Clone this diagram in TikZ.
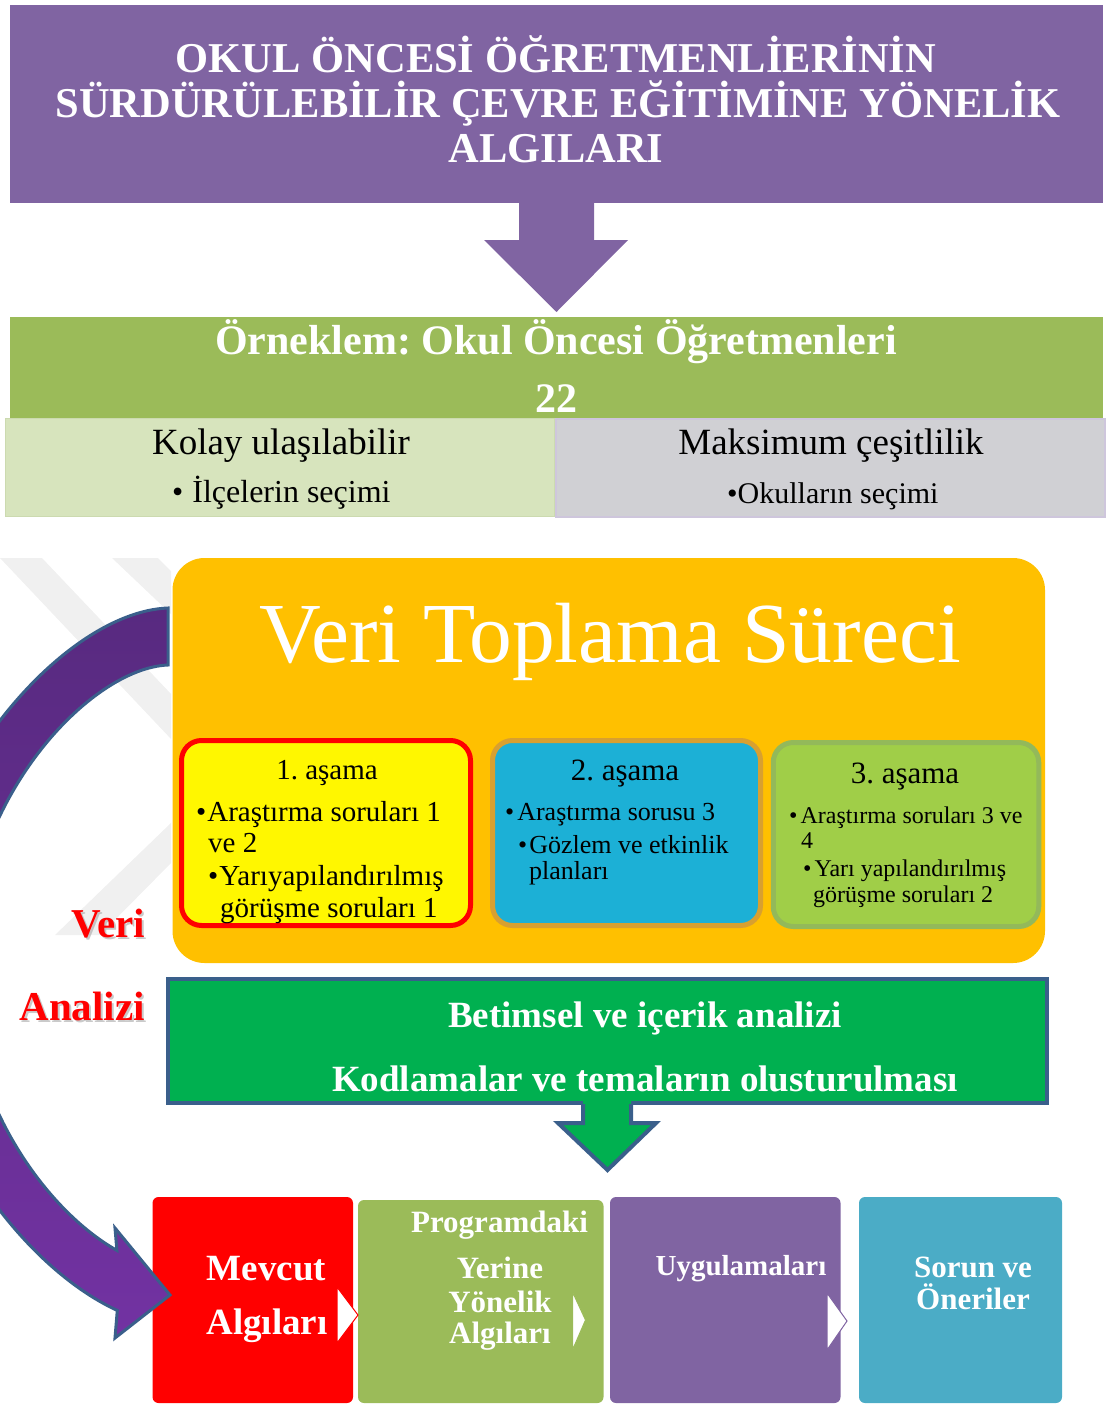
\documentclass[tikz,border=0pt]{standalone}
\usepackage{fontspec}
\setmainfont{Liberation Serif}
\usetikzlibrary{calc}
\definecolor{tpurple}{HTML}{8064A2}
\definecolor{tgreen}{HTML}{9BBB59}
\definecolor{lgreen}{HTML}{D7E4BD}
\definecolor{lgreenedge}{HTML}{CCDAB0}
\definecolor{lgray}{HTML}{D0D0D4}
\definecolor{lgrayedge}{HTML}{CEC6DC}
\definecolor{torange}{HTML}{FFC000}
\definecolor{tyellow}{HTML}{FFF700}
\definecolor{tblue}{HTML}{1CB0D6}
\definecolor{tblueedge}{HTML}{D8A030}
\definecolor{tlime}{HTML}{A0CE48}
\definecolor{tlimeedge}{HTML}{93B95A}
\definecolor{tgreenbox}{HTML}{00B050}
\definecolor{tedge}{HTML}{3A5F8B}
\definecolor{tred}{HTML}{FF0000}
\definecolor{tcyan}{HTML}{4BACC6}
\definecolor{arrtop}{HTML}{582A80}
\definecolor{arrbot}{HTML}{7232A2}
\definecolor{wmark}{HTML}{F0F0F0}
\newcommand\fsz[1]{\fontsize{#1}{#1}\selectfont}
\frenchspacing
\begin{document}
\begin{tikzpicture}[x=1pt,y=-1pt,
  panel/.style={rectangle, inner sep=0pt, outer sep=0pt},
  whitebold/.style={text=white, font=\fsz{#1}\bfseries, anchor=base, inner sep=0pt},
  blacktext/.style={text=black, font=\fsz{#1}, anchor=base, inner sep=0pt},
  blackleft/.style={text=black, font=\fsz{#1}, anchor=base west, inner sep=0pt},
  redlabel/.style={text=tred, font=\fsz{41}\bfseries, anchor=base east, inner sep=0pt},
  shadowlabel/.style={text=black!35, font=\fsz{41}\bfseries, anchor=base east, inner sep=0pt, opacity=0.6},
  stagebox/.style={panel, rounded corners=20pt, line width=5pt},
  bottombox/.style={panel, rounded corners=6pt},
  chev/.style={fill=white, line width=1pt, line join=miter}
]
\useasboundingbox (0,0) rectangle (1107,1405);
\clip (0,0) rectangle (1107,1405);

% watermark
\begin{scope}
\clip (0,555) rectangle (171,940);
\fill[wmark] (0,558) -- (42,558) -- (172,695) -- (172,740) -- cycle;
\fill[wmark] (112,558) -- (158,558) -- (172,572) -- (172,615) -- cycle;
\fill[wmark] (55,935) -- (172,822) -- (172,862) -- (100,935) -- cycle;
\end{scope}

% title
\node[panel, fill=tpurple, minimum width=1093pt, minimum height=198pt] (title) at (556.5,104) {};
\node[whitebold=42.5] (ttl1) at (556,72) {OKUL ÖNCESİ ÖĞRETMENLİERİNİN};
\node[whitebold=42.5] (ttl2) at (558,117) {SÜRDÜRÜLEBİLİR ÇEVRE EĞİTİMİNE YÖNELİK};
\node[whitebold=42.5] (ttl3) at (556,162) {ALGILARI};

% sample
\node[panel, fill=tgreen, minimum width=1093pt, minimum height=101pt] (sample) at (556.5,367.5) {};
\node[whitebold=42] (samplet) at (556,354) {Örneklem: Okul Öncesi Öğretmenleri};
\node[whitebold=42] (samplen) at (556,412) {22};
\node[panel, fill=lgreen, draw=lgreenedge, line width=1.5pt, minimum width=549pt, minimum height=98pt] (easy) at (280,467.5) {};
\node[panel, fill=lgray, draw=lgrayedge, line width=2pt, minimum width=549pt, minimum height=98pt] (maxv) at (830,467.5) {};
\node[blacktext=37] (easyt) at (281,454) {Kolay ulaşılabilir};
\node[blackleft=32] (easyb) at (172,502) {•\kern9pt İlçelerin seçimi};
\node[blacktext=37] (maxvt) at (831,454) {Maksimum çeşitlilik};
\node[blackleft=30] (maxvb) at (727,503) {•Okulların seçimi};

% arrow title -> sample
\fill[tpurple] ($(title.south)+(-37.5,-3)$) -- ++(75,0) -- ++(0,40) -- ++(34,0)
  -- ($(sample.north)+(0,-5)$) -- ($(title.south)+(-72.5,37)$) -- ++(35,0) -- cycle;

% data collection
\node[panel, fill=torange, rounded corners=32pt, minimum width=872.5pt, minimum height=405pt] (collect) at (608.75,760.5) {};
\node[text=white, font=\fsz{85.5}, anchor=base, inner sep=0pt] (collectt) at (610,662) {Veri Toplama Süreci};

\node[stagebox, fill=tyellow, draw=tred, minimum width=289pt, minimum height=185pt] (st1) at (326,833) {};
\node[stagebox, fill=tblue, draw=tblueedge, minimum width=268pt, minimum height=185pt] (st2) at (626.5,833) {};
\node[stagebox, fill=tlime, draw=tlimeedge, minimum width=265.5pt, minimum height=184pt] (st3) at (906,834.5) {};

\node[blacktext=29] (st1h) at (327,779) {1. aşama};
\node[blackleft=29] (st1a) at (196,821) {•\kern1pt Araştırma soruları 1};
\node[blackleft=29] (st1b) at (208,852) {ve 2};
\node[blackleft=29] (st1c) at (208,885) {•\kern1pt Yarıyapılandırılmış};
\node[blackleft=29] (st1d) at (220,917) {görüşme soruları 1};

\node[blacktext=31] (st2h) at (625,780) {2. aşama};
\node[blackleft=26] (st2a) at (505,820) {•\kern3pt Araştırma sorusu 3};
\node[blackleft=26] (st2b) at (518,853) {•\kern2pt Gözlem ve etkinlik};
\node[blackleft=26] (st2c) at (529,879) {planları};

\node[blacktext=31] (st3h) at (905,783) {3. aşama};
\node[blackleft=24] (st3a) at (789,823) {•\kern3pt Araştırma soruları 3 ve};
\node[blackleft=24] (st3b) at (801,848) {4};
\node[blackleft=24] (st3c) at (803,876) {•\kern3pt Yarı yapılandırılmış};
\node[blackleft=24] (st3d) at (813,902) {görüşme soruları 2};

% side labels
\node[shadowlabel] (verish) at (147,939) {Veri};
\node[redlabel] (veri) at (145,937) {Veri};
\node[shadowlabel] (analizish) at (147,1022) {Analizi};
\node[redlabel] (analizi) at (145,1020) {Analizi};

% analysis
\node[panel, fill=tgreenbox, draw=tedge, line width=4pt, minimum width=879pt, minimum height=124pt] (analysis) at (607.5,1041) {};
\node[whitebold=37] (an1) at (645,1027) {Betimsel ve içerik analizi};
\node[whitebold=37] (an2) at (645,1091) {Kodlamalar ve temaların olusturulması};

\coordinate (gtip) at ($(analysis.south)+(0,67)$);
\fill[tgreenbox] ($(analysis.south)+(-24.5,-4)$) -- ($(analysis.south)+(-24.5,20)$) -- ($(analysis.south)+(-49.5,20)$)
  -- (gtip) -- ($(analysis.south)+(48.5,20)$) -- ($(analysis.south)+(23.5,20)$) -- ($(analysis.south)+(23.5,-4)$) -- cycle;
\draw[tedge, line width=4pt, line join=miter] ($(analysis.south)+(-24.5,1)$) -- ($(analysis.south)+(-24.5,20)$) -- ($(analysis.south)+(-49.5,20)$)
  -- (gtip) -- ($(analysis.south)+(48.5,20)$) -- ($(analysis.south)+(23.5,20)$) -- ($(analysis.south)+(23.5,1)$);

% bottom process
\node[bottombox, fill=tred, minimum width=200.5pt, minimum height=206pt] (cur) at (252.75,1300) {};
\node[bottombox, fill=tgreen, minimum width=245.5pt, minimum height=203pt] (prog) at (480.75,1301.5) {};
\node[bottombox, fill=tpurple, minimum width=230.5pt, minimum height=206pt] (appl) at (725.25,1300) {};
\node[bottombox, fill=tcyan, minimum width=203pt, minimum height=206pt] (prob) at (960.5,1300) {};

\fill[chev, draw=tgreen] ($(prog.east)+(-31,-9.5)$) -- ($(prog.east)+(-18,18.5)$) -- ($(prog.east)+(-31,48.5)$) -- cycle;
\draw[chev, draw=tred] ($(cur.east)+(-16,-13)$) -- ($(cur.east)+(5,15)$) -- ($(cur.east)+(-16,43)$) -- cycle;
\draw[chev, draw=tpurple] ($(appl.east)+(-13.5,-7)$) -- ($(appl.east)+(6.5,21)$) -- ($(appl.east)+(-13.5,50)$) -- cycle;

\node[whitebold=37] (curt1) at (266.5,1280) {Mevcut};
\node[whitebold=37] (curt2) at (267,1334) {Algıları};
\node[whitebold=31] (progt1) at (499.5,1232) {Programdaki};
\node[whitebold=31] (progt2) at (500,1278) {Yerine};
\node[whitebold=31] (progt3) at (500,1312) {Yönelik};
\node[whitebold=31] (progt4) at (500,1343) {Algıları};
\node[whitebold=29] (applt) at (741,1275) {Uygulamaları};
\node[whitebold=31] (probt1) at (973,1277) {Sorun ve};
\node[whitebold=31] (probt2) at (973,1309) {Öneriler};

% curved arrow from data collection to current perceptions
\draw[top color=arrtop, bottom color=arrbot, draw=tedge, line width=3pt, line join=miter]
  (168,608) .. controls (60,612) and (-90,790) .. (-90,966)
  .. controls (-90,1115.6) and (18.4,1265.2) .. (117.3,1310.4)
  -- (115,1338) -- (170,1295) -- (115,1228) -- (116.9,1250.4)
  .. controls (45,1209.8) and (-35,1098.8) .. (-35,966)
  .. controls (-35,800) and (90,668) .. (168,665) -- cycle;
\end{tikzpicture}
\end{document}
